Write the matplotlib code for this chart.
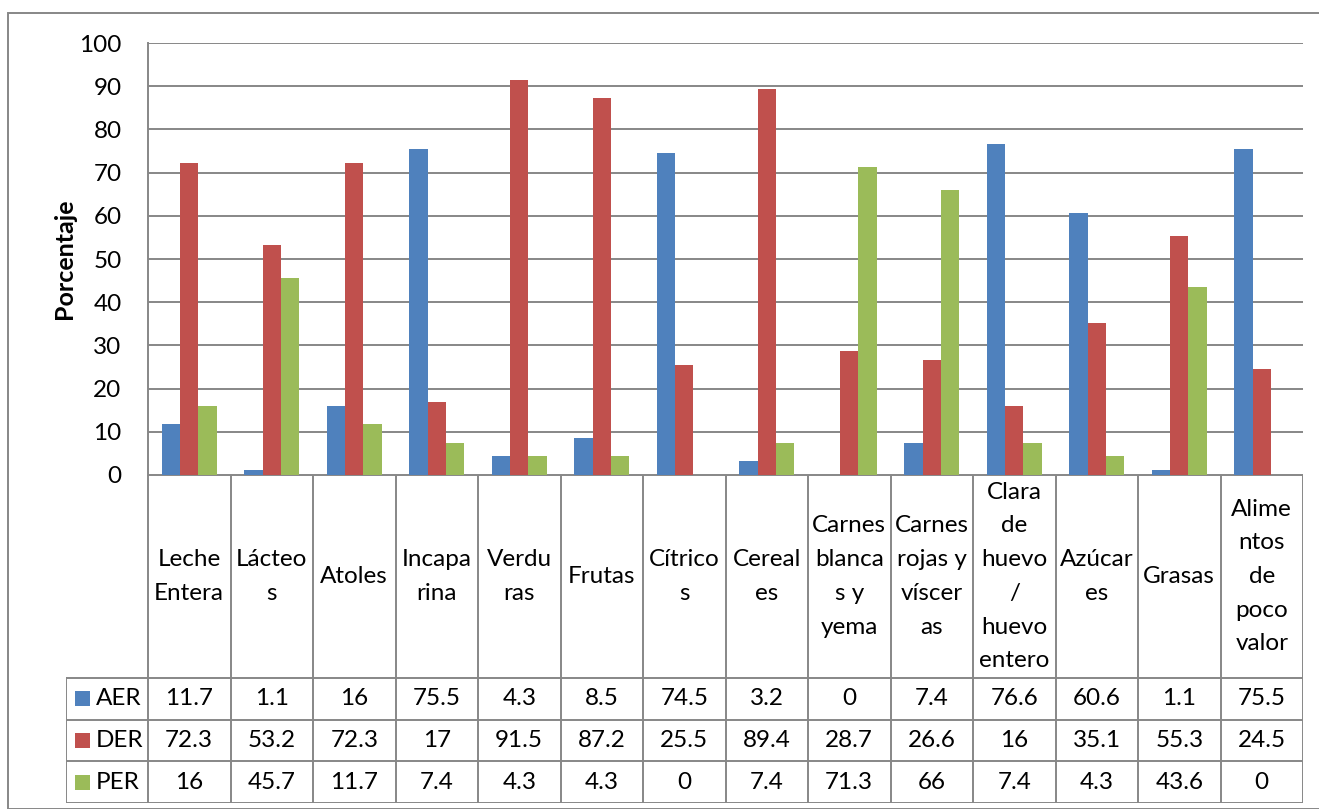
import matplotlib
matplotlib.use("Agg")
import matplotlib.pyplot as plt
from matplotlib.patches import Rectangle
import numpy as np

plt.rcParams["font.family"] = ["Lato", "DejaVu Sans"]

# Food groups (header text wrapped the way the table cells show it)
categories = [
    "Leche\nEntera", "Lácteo\ns", "Atoles", "Incapa\nrina", "Verdu\nras",
    "Frutas", "Cítrico\ns", "Cereal\nes", "Carnes\nblanca\ns y\nyema",
    "Carnes\nrojas y\nvíscer\nas", "Clara\nde\nhuevo\n/\nhuevo\nentero",
    "Azúcar\nes", "Grasas", "Alime\nntos\nde\npoco\nvalor",
]
aer = [11.7, 1.1, 16, 75.5, 4.3, 8.5, 74.5, 3.2, 0, 7.4, 76.6, 60.6, 1.1, 75.5]
der = [72.3, 53.2, 72.3, 17, 91.5, 87.2, 25.5, 89.4, 28.7, 26.6, 16, 35.1, 55.3, 24.5]
per = [16, 45.7, 11.7, 7.4, 4.3, 4.3, 0, 7.4, 71.3, 66, 7.4, 4.3, 43.6, 0]
series_names = ["AER", "DER", "PER"]
series_colors = ["#4F81BD", "#C0504D", "#9BBB59"]
y_ticks = [0, 10, 20, 30, 40, 50, 60, 70, 80, 90, 100]

W, H = 1319, 809
GRID = "#878787"
FS = 17.5

fig = plt.figure(figsize=(W / 100, H / 100), dpi=100)

# outer chart border
fig.patches.append(Rectangle((8 / W, 0), 1.2, 1 - 13 / H, transform=fig.transFigure,
                             fill=False, edgecolor=GRID, linewidth=1.4))

# ---- bar area ----
ax = fig.add_axes([148 / W, 1 - 475 / H, (1303 - 148) / W, (475 - 43) / H])
n = len(categories)
x = np.arange(n)
bar_w = 1 / 4.5
for k, (vals, col) in enumerate(zip([aer, der, per], series_colors)):
    ax.bar(x + (k - 1) * bar_w, vals, width=bar_w, color=col, zorder=3,
           edgecolor="none")

ax.set_xlim(-0.5, n - 0.5)
ax.set_ylim(0, 100)
ax.set_yticks(y_ticks)
ax.set_yticklabels([str(t) for t in y_ticks], fontsize=FS)
ax.set_xticks([])
ax.tick_params(axis="y", length=0, pad=19)
ax.yaxis.grid(True, color=GRID, linewidth=1.4, zorder=0)
for side in ["top", "right", "bottom"]:
    ax.spines[side].set_visible(False)
ax.spines["left"].set_color(GRID)
ax.spines["left"].set_linewidth(1.4)
ax.set_ylabel("Porcentaje", fontsize=FS + 0.5, fontweight="bold", labelpad=2)

# ---- data table ----
tab = fig.add_axes([65.5 / W, 1 - 803 / H, (1303 - 65.5) / W, (803 - 475) / H])
tab.set_xlim(-1.5, n - 0.5)
tab.set_ylim(328, 0)
tab.axis("off")

header_h = 203
row_h = (328 - header_h) / 3
line_kw = dict(color=GRID, linewidth=1.4, solid_capstyle="projecting")

tab.plot([-0.5, n - 0.5], [0, 0], **line_kw)
for r in range(4):
    yy = header_h + r * row_h
    tab.plot([-1.5, n - 0.5], [yy, yy], **line_kw)
for c in range(n + 1):
    tab.plot([c - 0.5, c - 0.5], [0, 328], **line_kw)
tab.plot([-1.5, -1.5], [header_h, 328], **line_kw)

for i, lab in enumerate(categories):
    tab.text(i, header_h / 2, lab, ha="center", va="center", fontsize=FS,
             linespacing=1.75)

for r, (name, col, vals) in enumerate(zip(series_names, series_colors, [aer, der, per])):
    yc = header_h + (r + 0.5) * row_h
    tab.add_patch(Rectangle((-1.38, yc - 7.5), 0.18, 15, facecolor=col,
                            edgecolor="none"))
    tab.text(-1.13, yc, name, ha="left", va="center", fontsize=FS)
    for i, v in enumerate(vals):
        tab.text(i, yc, f"{v:g}", ha="center", va="center", fontsize=FS)

fig.savefig("out.png", dpi=100)
